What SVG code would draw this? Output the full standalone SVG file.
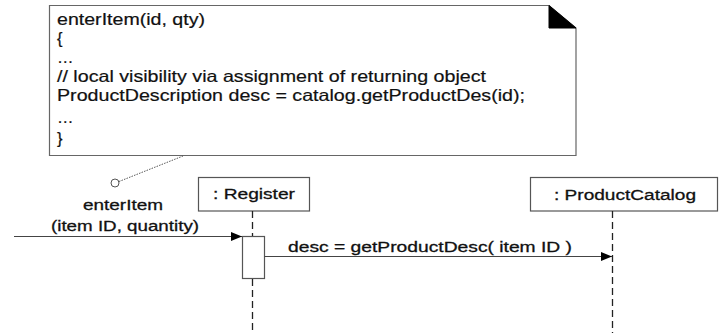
<svg xmlns="http://www.w3.org/2000/svg" width="721" height="333" viewBox="0 0 721 333">
<style>
.box{fill:#fff;stroke:#555;stroke-width:1.2}
.note{fill:#fff;stroke:#666;stroke-width:1.2}
.life{stroke:#222;stroke-width:1.3;stroke-dasharray:7,4;fill:none}
.msg{stroke:#444;stroke-width:1.2;fill:none}
.dot{stroke:#555;stroke-width:1;stroke-dasharray:1.5,1.2;fill:none}
.nt{font-family:"Liberation Sans",Arial,sans-serif;font-size:16.5px;fill:#111;stroke:#111;stroke-width:0.2}
.lb{font-family:"Liberation Sans",Arial,sans-serif;font-size:15.5px;fill:#111;stroke:#111;stroke-width:0.3}
</style>
<defs>
<marker id="arr" viewBox="0 0 11 9" refX="11" refY="4.5" markerWidth="11" markerHeight="9" markerUnits="userSpaceOnUse" orient="auto">
<path d="M0,0 L11,4.5 L0,9 z" fill="#000"/>
</marker>
</defs>
<g id="note">
<path class="note" d="M49.5,5.5 L549,5.5 L576,28 L576,155.5 L49.5,155.5 Z"/>
<path d="M549,5.5 L549,28 L576,28 Z" fill="#000" stroke="#000" stroke-width="1"/>
<text class="nt" x="57" y="25" textLength="148" lengthAdjust="spacingAndGlyphs">enterItem(id, qty)</text>
<text class="nt" x="57" y="44">{</text>
<text class="nt" x="57" y="63">…</text>
<text class="nt" x="57" y="82" textLength="429" lengthAdjust="spacingAndGlyphs">// local visibility via assignment of returning object</text>
<text class="nt" x="57" y="101" textLength="468" lengthAdjust="spacingAndGlyphs">ProductDescription desc = catalog.getProductDes(id);</text>
<text class="nt" x="57" y="123">…</text>
<text class="nt" x="57" y="144">}</text>
</g>
<g id="register">
<rect class="box" x="198.5" y="177.5" width="111" height="33.5"/>
<text class="lb" x="213" y="199" textLength="82" lengthAdjust="spacingAndGlyphs">: Register</text>
</g>
<g id="catalog">
<rect class="box" x="530.5" y="177.5" width="187" height="33.5"/>
<text class="lb" x="554" y="200" textLength="142" lengthAdjust="spacingAndGlyphs">: ProductCatalog</text>
</g>
<g id="activation">
<rect class="box" x="242.5" y="236.5" width="22" height="42"/>
</g>
<g id="connectors">
<line class="life" x1="252.5" y1="211" x2="252.5" y2="236"/>
<line class="life" x1="252.5" y1="279" x2="252.5" y2="333"/>
<line class="life" x1="612.5" y1="211" x2="612.5" y2="333"/>
<line class="msg" x1="14" y1="236.5" x2="242" y2="236.5" marker-end="url(#arr)"/>
<line class="msg" x1="264.5" y1="256.5" x2="612" y2="256.5" marker-end="url(#arr)"/>
<line class="dot" x1="119" y1="181.5" x2="183" y2="156"/>
<circle cx="115" cy="183" r="4" fill="#fff" stroke="#555" stroke-width="1"/>
<text class="lb" x="83" y="210" textLength="80" lengthAdjust="spacingAndGlyphs">enterItem</text>
<text class="lb" x="51" y="231" textLength="148" lengthAdjust="spacingAndGlyphs">(item ID, quantity)</text>
<text class="lb" x="288" y="252" textLength="284" lengthAdjust="spacingAndGlyphs">desc = getProductDesc( item ID )</text>
</g>
</svg>
